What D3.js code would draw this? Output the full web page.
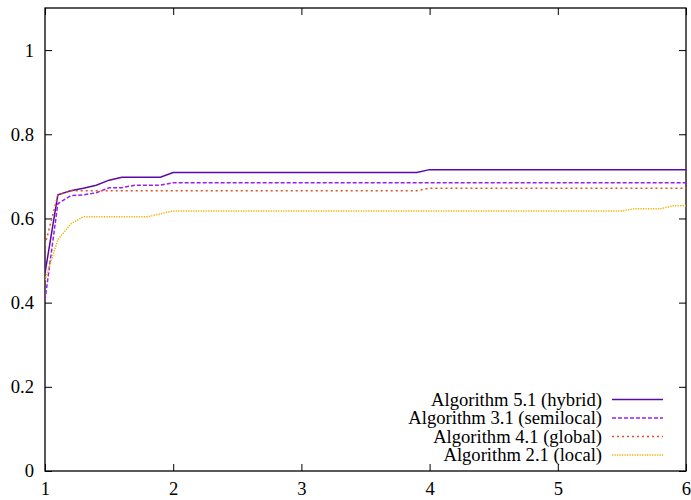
<!DOCTYPE html>
<html>
<head>
<meta charset="utf-8">
<script src="https://cdn.jsdelivr.net/npm/d3@7"></script>
<style>
  body { margin: 0; background: #fff; }
</style>
</head>
<body>
<div id="chart"></div>
<script>
// values
var seriesNames = ['Algorithm 5.1 (hybrid)', 'Algorithm 3.1 (semilocal)', 'Algorithm 4.1 (global)', 'Algorithm 2.1 (local)']

var hybridX = [1, 1.1, 1.2, 1.3, 1.4, 1.5, 1.6, 1.9, 2, 3.9, 4, 6]
var hybridY = [0.47, 0.656, 0.666, 0.672, 0.679, 0.691, 0.698, 0.698, 0.709, 0.709, 0.716, 0.716]

var semilocalX = [1, 1.1, 1.2, 1.3, 1.4, 1.5, 1.6, 1.7, 1.9, 2, 6]
var semilocalY = [0.406, 0.635, 0.654, 0.656, 0.661, 0.673, 0.673, 0.679, 0.679, 0.685, 0.685]

var globalX = [1, 1.1, 1.2, 3.9, 4, 6]
var globalY = [0.537, 0.655, 0.666, 0.666, 0.672, 0.672]

var localX = [1, 1.1, 1.2, 1.3, 1.8, 2, 5.5, 5.6, 5.8, 5.9, 6]
var localY = [0.454, 0.549, 0.587, 0.604, 0.604, 0.618, 0.618, 0.623, 0.623, 0.630, 0.630]

var xTicks = [1, 2, 3, 4, 5, 6]
var yTicks = [0, 0.2, 0.4, 0.6, 0.8, 1]

var colors = ['#5a0aa6', '#9a1ff0', '#e0531e', '#f2b400']
var dashes = [null, '4,2', '2,3', '1.3,1.2']

var fontFam = "'Liberation Serif', 'Times New Roman', serif";
var fontSize = '18.6px';

var margin = {top: 8, right: 5, bottom: 29, left: 45},
    W = 691, H = 500,
    width = W - margin.left - margin.right,
    height = H - margin.top - margin.bottom;

var svg = d3.select('#chart').append('svg')
    .attr('width', W).attr('height', H);

var g = svg.append('g')
    .attr('transform', 'translate(' + margin.left + ',' + margin.top + ')');

var xScale = d3.scaleLinear().domain([1, 6]).range([0, width]);
var yScale = d3.scaleLinear().domain([0, 1.1]).range([height, 0]);
var fmt = function(d) { return d3.format('~g')(d); };

// inward ticks, mirrored like gnuplot
var tickLen = 7;
g.append('g').attr('class', 'y axis')
    .call(d3.axisLeft(yScale).tickValues(yTicks).tickSizeInner(-tickLen).tickSizeOuter(0).tickPadding(11).tickFormat(fmt));
g.append('g').attr('transform', 'translate(' + width + ',0)')
    .call(d3.axisRight(yScale).tickValues(yTicks).tickSizeInner(-tickLen).tickSizeOuter(0).tickFormat(''));
g.append('g').attr('class', 'x axis').attr('transform', 'translate(0,' + height + ')')
    .call(d3.axisBottom(xScale).tickValues(xTicks).tickSizeInner(-tickLen).tickSizeOuter(0).tickPadding(11).tickFormat(fmt));
g.append('g')
    .call(d3.axisTop(xScale).tickValues(xTicks).tickSizeInner(-tickLen).tickSizeOuter(0).tickFormat(''));

g.selectAll('.domain').remove();
g.selectAll('.tick line').attr('stroke', '#000');

g.append('rect')
    .attr('width', width).attr('height', height)
    .attr('fill', 'none').attr('stroke', '#000').attr('stroke-width', 1.3);

g.append('clipPath').attr('id', 'plotclip')
  .append('rect').attr('width', width).attr('height', height);

var series = [
  {name: seriesNames[0], x: hybridX, y: hybridY},
  {name: seriesNames[1], x: semilocalX, y: semilocalY},
  {name: seriesNames[2], x: globalX, y: globalY},
  {name: seriesNames[3], x: localX, y: localY}
];

var line = d3.line()
    .x(function(d) { return xScale(d[0]); })
    .y(function(d) { return yScale(d[1]); });

var lines = g.append('g').attr('clip-path', 'url(#plotclip)');
series.forEach(function(s, i) {
  var pts = s.x.map(function(v, j) { return [v, s.y[j]]; });
  lines.append('path')
    .datum(pts)
    .attr('d', line)
    .attr('fill', 'none')
    .attr('stroke', colors[i])
    .attr('stroke-width', 1.5)
    .attr('stroke-dasharray', dashes[i]);
});

// legend, bottom right
var legend = svg.append('g').attr('class', 'legendG');
series.forEach(function(s, i) {
  var yy = 399.5 + i * 18.5;
  legend.append('text')
    .attr('x', 602).attr('y', yy + 6)
    .style('text-anchor', 'end')
    .text(s.name);
  legend.append('line')
    .attr('x1', 612).attr('x2', 663)
    .attr('y1', yy).attr('y2', yy)
    .attr('stroke', colors[i])
    .attr('stroke-width', 1.5)
    .attr('stroke-dasharray', dashes[i]);
});

svg.selectAll('text')
    .attr('font-family', null).attr('font-size', null)
    .style('font-family', fontFam)
    .style('font-size', fontSize)
    .style('fill', '#000');
svg.selectAll('g').attr('font-family', null).attr('font-size', null);
</script>
</body>
</html>
